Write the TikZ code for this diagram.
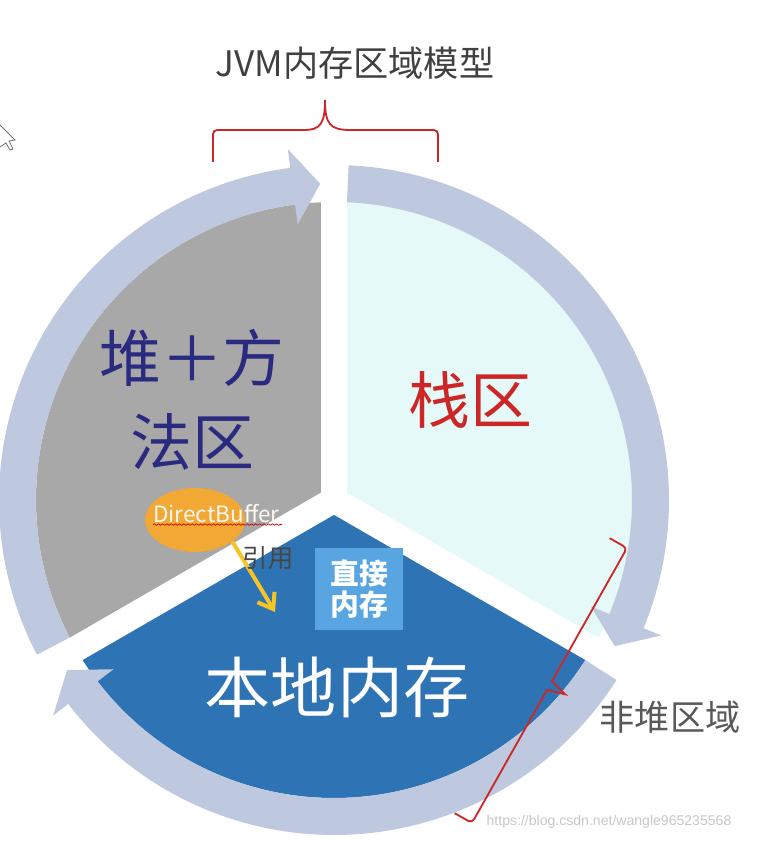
\documentclass[tikz,border=0pt]{standalone}
\usepackage{fontspec}
\setmainfont{Noto Sans CJK SC}
\newfontfamily\urlfont{Liberation Sans}
\usetikzlibrary{arrows.meta, calc, shapes.geometric, decorations.pathmorphing}
\definecolor{heapgray}{RGB}{168,168,168}
\definecolor{stackcyan}{RGB}{230,249,249}
\definecolor{nativeblue}{RGB}{46,116,181}
\definecolor{ringblue}{RGB}{190,200,223}
\definecolor{directblue}{RGB}{88,165,226}
\definecolor{bufferorange}{RGB}{241,168,52}
\definecolor{bracered}{RGB}{205,38,38}
\definecolor{heapnavy}{RGB}{42,42,128}
\definecolor{refyellow}{RGB}{246,196,36}
\tikzset{
  gapline/.style  ={white, line width=0.64cm},
  ringarrow/.style={fill=ringblue},
  bracket/.style  ={bracered, line width=1.3pt, rounded corners=3pt},
  bigtext/.style  ={font=\fontsize{44}{60}\selectfont, align=center, inner sep=0pt},
  title/.style    ={font=\fontsize{25}{30}\selectfont, text=black!75, inner sep=0pt},
  sidelbl/.style  ={font=\fontsize{25}{30}\selectfont, text=black!65, inner sep=0pt},
  bufblob/.style  ={ellipse, fill=bufferorange, minimum width=2.5cm, minimum height=1.6cm, inner sep=0pt},
  directbox/.style={fill=directblue, minimum width=2.2cm, minimum height=2.05cm, align=center,
                    text=white, font=\fontsize{20.5}{21.5}\selectfont\bfseries, inner sep=0pt},
  refarrow/.style ={-{Straight Barb[length=0.35cm, width=0.5cm]}, refyellow, line width=0.1cm},
}

\begin{document}
\begin{tikzpicture}[x=0.025cm, y=0.025cm]
  \useasboundingbox (0,0) rectangle (756,860);
  \coordinate (c) at (334,360);

  % three regions of the cycle
  \fill[heapgray]   (c) -- ++(90:298)  arc[start angle=90,  end angle=210, radius=298] -- cycle;
  \fill[stackcyan]  (c) -- ++(-30:298) arc[start angle=-30, end angle=90,  radius=298] -- cycle;
  \fill[nativeblue] (c) -- ++(210:298) arc[start angle=210, end angle=330, radius=298] -- cycle;
  \foreach \a in {90,210,330}
    \draw[gapline] (c) -- ++(\a:345);

  % ring of curved arrows, clockwise
  \foreach \a/\b [evaluate=\b as \t using \b-5] in {207.5/97.5, 87.5/-22.5, -32.5/-142.5}
    \fill[ringarrow] ([shift={(c)}]\a:335) arc[start angle=\a, end angle=\b, radius=335]
      -- ([shift={(c)}]\b:354) -- ([shift={(c)}]\t:316.5) -- ([shift={(c)}]\b:278)
      -- ([shift={(c)}]\b:298) arc[start angle=\b, end angle=\a, radius=298] -- cycle;

  % region labels
  \node[bigtext, text=heapnavy] (heap) at (192,460) {堆＋方\\法区};
  \node[bigtext, text=bracered] (stack) at (470,460) {栈区};
  \node[bigtext, text=white, font=\fontsize{47}{50}\selectfont] (native) at (337,173) {本地内存};
  \node[directbox] (direct) at (359,271) {直接\\内存};

  % DirectBuffer and its reference
  \node[bufblob] (buffer) at (195,340) {};
  \node[anchor=base west, inner sep=0pt, text=white!94!orange, font=\fontsize{16}{18}\selectfont] (buftext) at (153,337) {DirectBuffer};
  \draw[red!80!black, line width=0.5pt, decorate, decoration={snake, amplitude=0.5pt, segment length=3pt}]
    (buftext.south west) ++(0,-1) -- ++(129,0);
  \coordinate (reftip) at (275,248);
  \draw[refarrow] (buffer.-30) -- (reftip);
  \node[font=\fontsize{18}{20}\selectfont, text=black!72, inner sep=0pt] (reflbl) at (268,302) {引用};

  % braces
  \node[title] (jvm) at (355,797) {JVM内存区域模型};
  \draw[bracket] (213,698) -- (213,730) -- (300,730) [sharp corners]
    .. controls (320,730) and (325,736) .. (325,760)
    .. controls (325,736) and (330,730) .. (350,730) [rounded corners=3pt]
    -- (438,730) -- (438,698);
  \draw[bracket] (609.6,321.8) -- (627,312) [sharp corners] -- (552,178.9) -- (565.2,165.7) -- (547,170.1)
    [rounded corners=3pt] -- (472,37) -- (454.6,46.8);
  \node[sidelbl] (nonheap) at (670,143) {非堆区域};

  % mouse pointer at the edge
  \draw[black!55, fill=white, line width=0.6pt] (0,735) -- (15,720) -- (9,719) -- (13,711)
    -- (10,710) -- (6,717) -- (0,713);

  % watermark
  \node[font=\urlfont\fontsize{10}{12}\selectfont, text=black!22, inner sep=0pt] (wm) at (609,38)
    {https://blog.csdn.net/wangle965235568};
\end{tikzpicture}
\end{document}
